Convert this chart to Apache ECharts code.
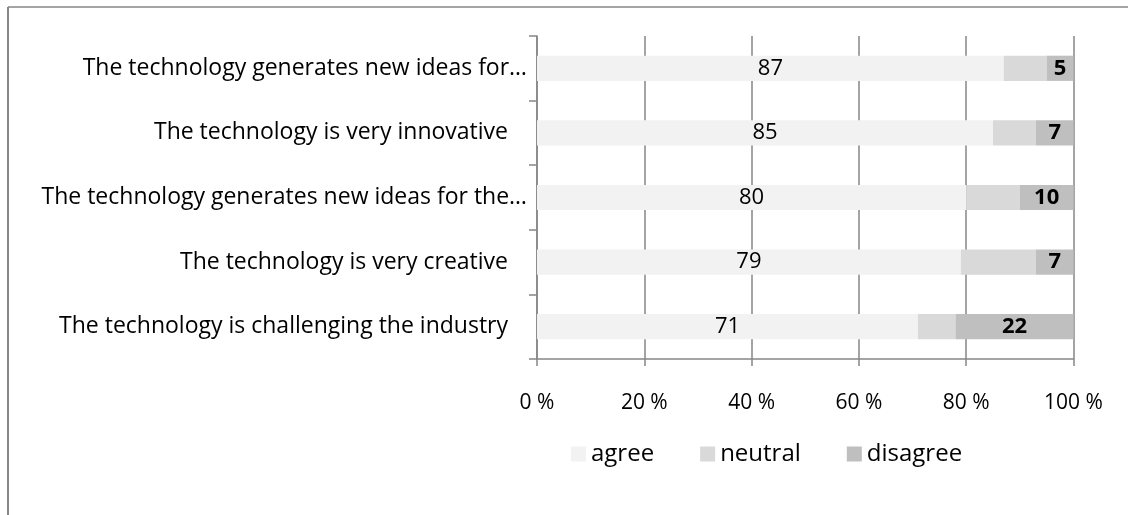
<!DOCTYPE html>
<html>
<head>
<meta charset="utf-8">
<script src="https://cdn.jsdelivr.net/npm/echarts@6/dist/echarts.min.js"></script>
<style>
  html, body { margin: 0; padding: 0; background: #fff; }
  #chart { width: 1130px; height: 515px; }
</style>
</head>
<body>
<div id="chart"></div>
<script>
// Survey statements, listed top to bottom
const statements = [
  'The technology generates new ideas for…',
  'The technology is very innovative',
  'The technology generates new ideas for the…',
  'The technology is very creative',
  'The technology is challenging the industry'
];
// Share of answers per statement (%)
const agree    = [87, 85, 80, 79, 71];
const neutral  = [8, 8, 10, 14, 7];
const disagree = [5, 7, 10, 7, 22];
const xTicks = [0, 20, 40, 60, 80, 100];

const FONT = '"Open Sans", "Noto Sans", sans-serif';
const AXIS_GREY = '#868686';

const chart = echarts.init(document.getElementById('chart'), null, { renderer: 'canvas' });

chart.setOption({
  animation: false,
  backgroundColor: '#ffffff',
  textStyle: { fontFamily: FONT, color: '#000' },
  graphic: [
    // outer frame edges (top and left)
    { type: 'line', shape: { x1: 8, y1: 7, x2: 1128, y2: 7 }, style: { stroke: AXIS_GREY, lineWidth: 1.5 } },
    { type: 'line', shape: { x1: 8, y1: 7, x2: 8, y2: 515 }, style: { stroke: AXIS_GREY, lineWidth: 2 } }
  ],
  grid: { left: 537, right: 56.5, top: 36, bottom: 156, containLabel: false },
  legend: {
    top: 437,
    left: 566,
    itemWidth: 15,
    itemHeight: 15,
    itemGap: 46,
    icon: 'rect',
    textStyle: { fontFamily: FONT, fontSize: 24, color: '#000' },
    data: ['agree', 'neutral', 'disagree']
  },
  xAxis: {
    type: 'value',
    min: xTicks[0],
    max: xTicks[xTicks.length - 1],
    interval: xTicks[1] - xTicks[0],
    axisLine: { show: true, lineStyle: { color: AXIS_GREY, width: 1.5 } },
    axisTick: { show: true, length: 7, lineStyle: { color: AXIS_GREY, width: 1.5 } },
    splitLine: { show: true, lineStyle: { color: AXIS_GREY, width: 1.5 } },
    axisLabel: {
      formatter: '{value} %',
      margin: 34,
      fontFamily: FONT,
      fontSize: 21,
      color: '#000'
    }
  },
  yAxis: {
    type: 'category',
    inverse: true,
    data: statements,
    axisLine: { show: true, lineStyle: { color: AXIS_GREY, width: 1.5 } },
    axisTick: { show: true, length: 8, alignWithLabel: false, lineStyle: { color: AXIS_GREY, width: 1.5 } },
    splitLine: { show: false },
    axisLabel: {
      margin: 10,
      fontFamily: FONT,
      fontSize: 23,
      color: '#000',
      // shortened statements run closer to the axis than complete ones
      formatter: (v) => v.endsWith('…') ? v : '{full|' + v + '}',
      rich: {
        full: { fontFamily: FONT, fontSize: 23, color: '#000', padding: [0, 19, 0, 0] }
      }
    }
  },
  series: [
    {
      name: 'agree',
      type: 'bar',
      stack: 'total',
      barCategoryGap: '61%',
      itemStyle: { color: '#f2f2f2' },
      label: { show: true, position: 'inside', fontFamily: FONT, fontSize: 22, color: '#000' },
      data: agree
    },
    {
      name: 'neutral',
      type: 'bar',
      stack: 'total',
      itemStyle: { color: '#d9d9d9' },
      label: { show: false },
      data: neutral
    },
    {
      name: 'disagree',
      type: 'bar',
      stack: 'total',
      itemStyle: { color: '#bfbfbf' },
      label: { show: true, position: 'inside', fontFamily: FONT, fontSize: 22, fontWeight: 'bold', color: '#000' },
      data: disagree
    }
  ]
});
</script>
</body>
</html>
